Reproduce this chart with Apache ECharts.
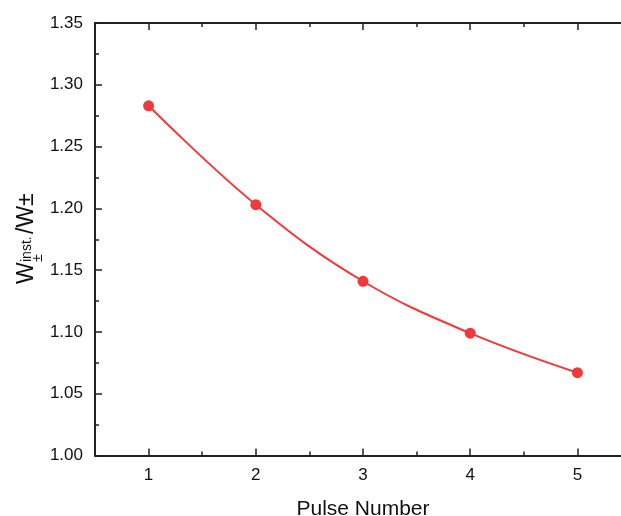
<!DOCTYPE html>
<html>
<head>
<meta charset="utf-8">
<script src="https://cdn.jsdelivr.net/npm/echarts@6/dist/echarts.min.js"></script>
<style>
html,body{margin:0;padding:0;background:#fff;}
#chart{width:621px;height:516px;}
</style>
</head>
<body>
<div id="chart"></div>
<script>
// 脉冲序号与比值
var pulseNumbers = ['1', '2', '3', '4', '5'];
var ratioValues = [1.283, 1.203, 1.141, 1.099, 1.067];
var yTicks = [1.00, 1.05, 1.10, 1.15, 1.20, 1.25, 1.30, 1.35];

var FONT = '"Liberation Sans", Arial, sans-serif';
var AXIS_COLOR = '#222';
var RED = '#ef3a3d';

var myChart = echarts.init(document.getElementById('chart'));

function catAxis(pos, showLabel, major) {
	return {
		type: 'category',
		position: pos,
		data: pulseNumbers,
		boundaryGap: true,
		axisLine: { show: major, onZero: false, lineStyle: { color: AXIS_COLOR, width: 2 } },
		axisTick: {
			show: true,
			inside: true,
			alignWithLabel: major,
			length: major ? 7 : 4,
			lineStyle: { color: AXIS_COLOR, width: 1.5 }
		},
		axisLabel: {
			show: showLabel,
			color: '#111',
			fontFamily: FONT,
			fontSize: 17,
			margin: 11
		},
		splitLine: { show: false }
	};
}

var xMain = catAxis('bottom', true, true);
xMain.name = 'Pulse Number';
xMain.nameLocation = 'middle';
xMain.nameGap = 43;
xMain.nameTextStyle = { fontFamily: FONT, fontSize: 21, color: '#111' };

var option = {
	animation: false,
	backgroundColor: '#fff',
	grid: { left: 95, top: 23, width: 536, height: 432.5, containLabel: false, outerBoundsMode: 'none' },
	xAxis: [
		xMain,
		catAxis('bottom', false, false),
		catAxis('top', false, true),
		catAxis('top', false, false)
	],
	yAxis: {
		type: 'value',
		min: yTicks[0],
		max: yTicks[yTicks.length - 1],
		interval: 0.05,
		axisLine: { show: true, lineStyle: { color: AXIS_COLOR, width: 2 } },
		axisTick: { show: true, inside: true, length: 7, lineStyle: { color: AXIS_COLOR, width: 1.5 } },
		minorTick: { show: true, splitNumber: 2, length: 4, lineStyle: { color: AXIS_COLOR, width: 1.5 } },
		axisLabel: {
			color: '#111',
			fontFamily: FONT,
			fontSize: 17,
			margin: 12,
			formatter: function (v) { return v.toFixed(2); }
		},
		splitLine: { show: false }
	},
	graphic: [
		{ type: 'text', x: 27, y: 284, rotation: Math.PI / 2,
			style: { text: 'W', fontFamily: FONT, fontSize: 23, fill: '#111', align: 'left', verticalAlign: 'middle' } },
		{ type: 'text', x: 27, y: 262, rotation: Math.PI / 2,
			style: { text: 'inst.', fontFamily: FONT, fontSize: 14, fill: '#111', align: 'left', verticalAlign: 'middle' } },
		{ type: 'text', x: 38, y: 262, rotation: Math.PI / 2,
			style: { text: '±', fontFamily: FONT, fontSize: 14, fill: '#111', align: 'left', verticalAlign: 'middle' } },
		{ type: 'text', x: 27, y: 234, rotation: Math.PI / 2,
			style: { text: '/W±', fontFamily: FONT, fontSize: 23, fill: '#111', align: 'left', verticalAlign: 'middle' } }
	],
	series: [{
		type: 'line',
		xAxisIndex: 0,
		data: ratioValues,
		smooth: 0.4,
		symbol: 'circle',
		symbolSize: 11,
		itemStyle: { color: RED },
		lineStyle: { color: RED, width: 2 }
	}]
};
myChart.setOption(option);
</script>
</body>
</html>
